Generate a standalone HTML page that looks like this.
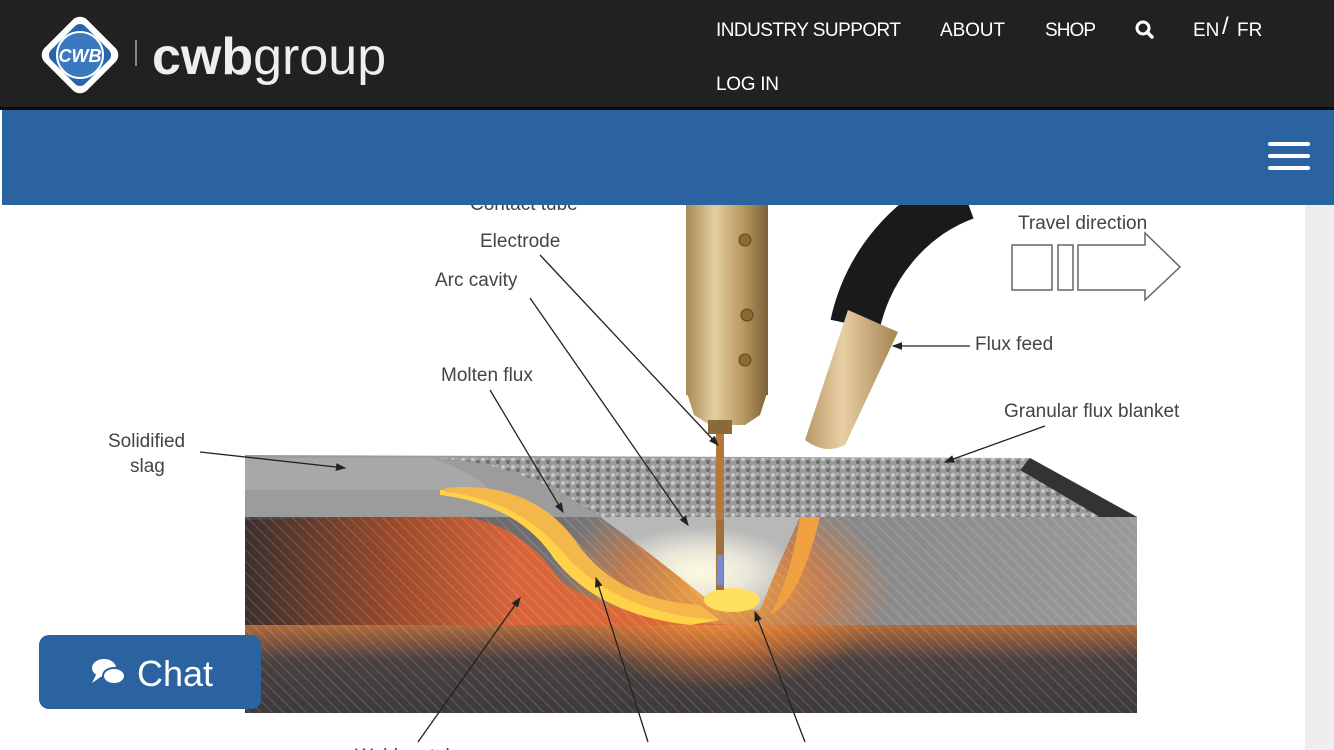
<!DOCTYPE html>
<html><head><meta charset="utf-8"><style>
html,body{margin:0;padding:0;width:1334px;height:750px;overflow:hidden;background:#fff;font-family:"Liberation Sans",sans-serif}
</style></head><body>
<svg width="1334" height="750" viewBox="0 0 1334 750" xmlns="http://www.w3.org/2000/svg">
<defs>
<linearGradient id="gold" x1="0" x2="1"><stop offset="0" stop-color="#a88a55"/><stop offset="0.35" stop-color="#e3cfa0"/><stop offset="0.7" stop-color="#b89760"/><stop offset="1" stop-color="#7a6238"/></linearGradient>
<linearGradient id="tan" x1="0" x2="1"><stop offset="0" stop-color="#b99868"/><stop offset="0.4" stop-color="#e8cfa4"/><stop offset="1" stop-color="#a4834f"/></linearGradient>
<linearGradient id="weld" x1="0" x2="1"><stop offset="0" stop-color="#3c2f2e"/><stop offset="0.3" stop-color="#9a4a2a"/><stop offset="0.55" stop-color="#d8643a"/><stop offset="1" stop-color="#e06a35"/></linearGradient>
<linearGradient id="bottom" x1="0" y1="0" x2="0" y2="1"><stop offset="0" stop-color="#b06a3a"/><stop offset="0.4" stop-color="#4a4040"/><stop offset="1" stop-color="#3e3a3a"/></linearGradient>
<linearGradient id="base" x1="0" x2="1"><stop offset="0" stop-color="#4a4545"/><stop offset="0.4" stop-color="#7a7878"/><stop offset="1" stop-color="#9a9a9a"/></linearGradient>
<radialGradient id="glow" cx="0.5" cy="0.5" r="0.5"><stop offset="0" stop-color="#ffb040" stop-opacity="0.95"/><stop offset="0.6" stop-color="#e87a30" stop-opacity="0.6"/><stop offset="1" stop-color="#e87a30" stop-opacity="0"/></radialGradient>
<radialGradient id="arc" cx="0.5" cy="0.6" r="0.5"><stop offset="0" stop-color="#fffbe0"/><stop offset="0.5" stop-color="#e8e6d8"/><stop offset="1" stop-color="#b8b8b8"/></radialGradient>
<pattern id="hatch" width="8" height="8" patternUnits="userSpaceOnUse" patternTransform="rotate(-45)"><line x1="0" y1="0" x2="0" y2="8" stroke="#ffffff" stroke-opacity="0.12" stroke-width="3"/></pattern>
<pattern id="grain" width="10" height="8" patternUnits="userSpaceOnUse"><rect width="10" height="8" fill="#9a9a9a"/><circle cx="3" cy="3" r="2" fill="#c8c8c8"/><circle cx="8" cy="6" r="2" fill="#6e6e6e"/><circle cx="7" cy="2" r="1.3" fill="#b0b0b0"/></pattern>
<marker id="ah" markerWidth="8" markerHeight="8" refX="7" refY="4" orient="auto"><path d="M0,1 L8,4 L0,7 z" fill="#222"/></marker>
</defs>
<!-- diagram -->
<text x="470" y="210" font-size="19" fill="#444">Contact tube</text>
<path d="M965,195 C910,215 868,265 855,325" fill="none" stroke="#1a1a1a" stroke-width="50"/>
<path d="M848,310 L898,332 L845,445 Q825,455 805,440 Z" fill="url(#tan)"/>
<rect x="245" y="517" width="892" height="196" fill="url(#base)"/>
<rect x="245" y="625" width="892" height="88" fill="url(#bottom)"/>
<ellipse cx="720" cy="590" rx="170" ry="100" fill="url(#glow)"/>
<path d="M245,520 L450,515 Q520,520 560,580 Q610,620 740,625 L245,625 Z" fill="url(#weld)"/>
<rect x="245" y="517" width="892" height="196" fill="url(#hatch)"/>
<path d="M245,455 L1030,458 L1137,517 L245,517 Z" fill="#9c9c9c"/>
<path d="M430,458 L1030,458 L1137,517 L600,517 Q520,460 430,458 Z" fill="url(#grain)"/>
<path d="M1030,458 L1137,517 L1100,517 L1020,470 Z" fill="#333"/>
<path d="M245,458 L430,458 Q470,470 490,490 L245,490 Z" fill="#a6a8aa"/>
<path d="M440,490 Q520,485 560,540 Q610,610 720,620 L690,625 Q600,615 555,560 Q520,505 440,495 Z" fill="#ffd24a"/>
<path d="M445,488 Q530,480 575,540 Q615,600 700,605 L720,620 Q620,615 565,555 Q520,500 445,492 Z" fill="#f4b84a"/>
<path d="M600,517 L800,517 Q780,560 760,610 L720,610 Q660,560 600,517 Z" fill="url(#arc)"/>
<path d="M800,517 Q790,580 770,615 Q800,600 820,517 Z" fill="#f0a040"/>
<ellipse cx="732" cy="600" rx="28" ry="12" fill="#ffe060"/>
<rect x="716" y="430" width="8" height="100" fill="#b5773f"/>
<rect x="716" y="520" width="8" height="70" fill="#a07040"/>
<rect x="717" y="555" width="6" height="30" fill="#7a8cd0"/>
<rect x="686" y="205" width="82" height="190" fill="url(#gold)"/>
<path d="M686,390 L768,390 L760,415 L745,425 L710,425 L694,415 Z" fill="url(#gold)"/>
<rect x="708" y="420" width="24" height="14" fill="#8a6a3a"/>
<g fill="#8b6a30" stroke="#5a4520"><circle cx="745" cy="240" r="6"/><circle cx="747" cy="315" r="6"/><circle cx="745" cy="360" r="6"/></g>
<g fill="none" stroke="#666" stroke-width="1.5">
<rect x="1012" y="245" width="40" height="45"/><rect x="1058" y="245" width="15" height="45"/>
<path d="M1078,245 L1145,245 L1145,233 L1180,267 L1145,300 L1145,290 L1078,290 Z"/>
</g>
<g font-size="19" fill="#444">
<text x="1018" y="229">Travel direction</text>
<text x="480" y="247">Electrode</text>
<text x="435" y="286">Arc cavity</text>
<text x="441" y="381">Molten flux</text>
<text x="108" y="447">Solidified</text>
<text x="130" y="472">slag</text>
<text x="975" y="350">Flux feed</text>
<text x="1004" y="417">Granular flux blanket</text>
<text x="355" y="762">Weld metal</text>
</g>
<g stroke="#222" stroke-width="1.3" fill="none" marker-end="url(#ah)">
<line x1="540" y1="255" x2="718" y2="445"/>
<line x1="530" y1="298" x2="688" y2="525"/>
<line x1="490" y1="390" x2="563" y2="512"/>
<line x1="200" y1="452" x2="345" y2="468"/>
<line x1="970" y1="346" x2="893" y2="346"/>
<line x1="1045" y1="426" x2="945" y2="462"/>
<line x1="418" y1="742" x2="520" y2="598"/>
<line x1="648" y1="742" x2="596" y2="578"/>
<line x1="805" y1="742" x2="755" y2="612"/>
</g>
<!-- header on top -->
<rect x="0" y="0" width="1334" height="108" fill="#212121"/>
<rect x="0" y="107" width="1334" height="3" fill="#0a0a0a"/>
<g transform="translate(80,55)">
<rect x="-30" y="-30" width="60" height="60" rx="10" transform="rotate(45)" fill="#fff"/>
<rect x="-24" y="-24" width="48" height="48" rx="7" transform="rotate(45)" fill="#2a64a8"/>
<circle r="23" fill="#3a78c0" stroke="#fff" stroke-width="2"/>
<text x="0" y="7" text-anchor="middle" font-size="18" font-style="italic" font-weight="bold" fill="#fff">CWB</text>
</g>
<rect x="135" y="40" width="2" height="26" fill="#888"/>
<text x="152" y="74" font-size="52" fill="#eee"><tspan font-weight="bold">cwb</tspan>group</text>
<g fill="#fff" font-size="19">
<text x="716" y="36" textLength="185">INDUSTRY SUPPORT</text>
<text x="940" y="36" textLength="65">ABOUT</text>
<text x="1045" y="36" textLength="51">SHOP</text>
<text x="1193" y="36">EN</text><text x="1222" y="34" font-size="24">/</text><text x="1237" y="36">FR</text>
<text x="716" y="90" textLength="63">LOG IN</text>
</g>
<circle cx="1143" cy="28" r="6" fill="none" stroke="#fff" stroke-width="3"/>
<line x1="1147" y1="32" x2="1152" y2="37" stroke="#fff" stroke-width="3.5" stroke-linecap="round"/>
<rect x="2" y="110" width="1332" height="95" fill="#2b63a0"/>
<g fill="#fff"><rect x="1268" y="142" width="42" height="4" rx="2"/><rect x="1268" y="154" width="42" height="4" rx="2"/><rect x="1268" y="166" width="42" height="4" rx="2"/></g>
<rect x="1305" y="205" width="29" height="545" fill="#eeeef0"/>
<!-- chat -->
<rect x="39" y="635" width="222" height="74" rx="10" fill="#2b63a0"/>
<ellipse cx="104" cy="668" rx="12" ry="9" fill="#fff"/>
<ellipse cx="114" cy="676" rx="11" ry="8" fill="#fff" stroke="#2b63a0" stroke-width="2"/>
<path d="M96,675 L92,683 L102,676 Z" fill="#fff"/>
<text x="137" y="686" font-size="36" fill="#fff">Chat</text>
</svg>
</body></html>
